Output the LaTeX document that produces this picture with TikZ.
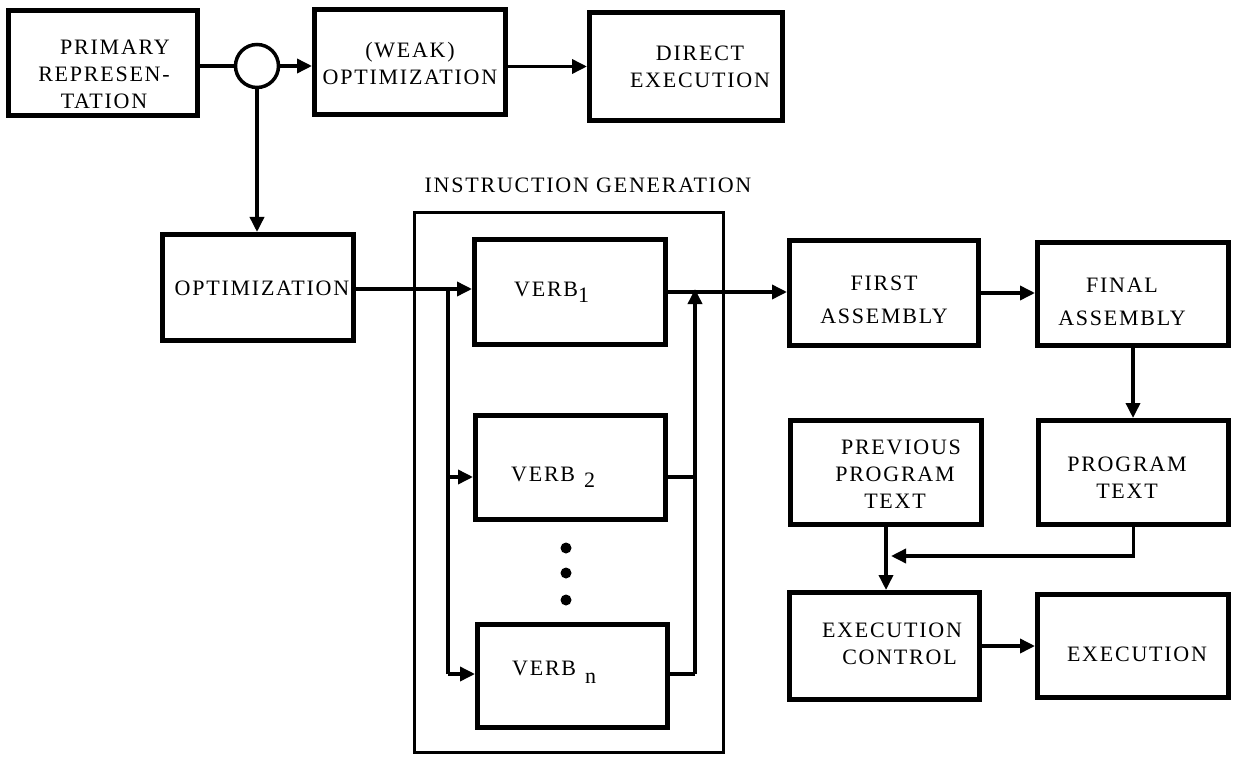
\documentclass[tikz,border=0pt]{standalone}
\usepackage{fontspec}
\setmainfont{Liberation Serif}[LetterSpace=8]
\usetikzlibrary{arrows.meta}
\newcommand{\boxnode}[6][box]{\node[#1, minimum width={#5-#3-5}, minimum height={#6-#4-5}] (#2) at ({(#3+#5)/2},{(#4+#6)/2}) {};}
\begin{document}
\begin{tikzpicture}[x=1pt,y=-1pt,
  box/.style={draw, line width=5pt, inner sep=0pt},
  outerbox/.style={draw, line width=3.5pt, inner sep=0pt},
  lbl/.style={font=\fontsize{22}{27}\selectfont, align=center, inner sep=0pt},
  conn/.style={line width=3.5pt},
  arr/.style={conn, -{Triangle[length=15pt,width=14pt]}},
  dot/.style={circle, fill, inner sep=0pt, minimum size=11pt},
]
\useasboundingbox (0,0) rectangle (1233,759);

% boxes
\boxnode{prim}{6}{8}{200}{118}
\boxnode{weak}{312}{7}{508}{117}
\boxnode{direct}{587}{10}{785}{123}
\boxnode{opt}{160}{232}{356}{343}
\boxnode[outerbox]{ig}{412}{210}{726}{755}
\boxnode{verb1}{472}{237}{668}{347}
\boxnode{verb2}{473}{413}{668}{522}
\boxnode{verbn}{475}{622}{670}{730}
\boxnode{first}{787}{238}{981}{348}
\boxnode{final}{1035}{240}{1231}{348}
\boxnode{prev}{788}{418}{984}{527}
\boxnode{progtext}{1036}{418}{1231}{527}
\boxnode{ec}{787}{590}{982}{702}
\boxnode{exec}{1035}{592}{1231}{700}
\node[draw, circle, line width=3.5pt, minimum size=43pt, inner sep=0pt] (split) at (257,66) {};

% dots
\node[dot] (d1) at (566,548) {};
\node[dot] (d2) at (566,573) {};
\node[dot] (d3) at (566,600) {};

% labels
\node[lbl] (tprim) at (104,74) {\hspace{22pt}PRIMARY\\REPRESEN-\\TATION};
\node[lbl] (tweak) at (410,63) {(WEAK)\\OPTIMIZATION};
\node[lbl] (tdirect) at (700,67) {DIRECT\\EXECUTION};
\node[lbl] (title) at (588,185) {INSTRUCTION GENERATION};
\node[lbl] (topt) at (262,288) {OPTIMIZATION};
\node[lbl, anchor=west] (tverb1) at (514,292) {VERB\raisebox{-6pt}{1}};
\node[lbl, anchor=west] (tverb2) at (511,477) {VERB\hspace{9pt}\raisebox{-6pt}{2}};
\node[lbl, anchor=west] (tverbn) at (512,672) {VERB\hspace{9pt}\raisebox{-8pt}{n}};
\node[lbl] (tfirst) at (884,300) {FIRST\\[6pt]ASSEMBLY};
\node[lbl] (tfinal) at (1122,302) {FINAL\hspace{25pt}\\[6pt]ASSEMBLY};
\node[lbl] (tprev) at (895,474) {\hspace{12pt}PREVIOUS\\PROGRAM\\TEXT};
\node[lbl] (tprog) at (1127,478) {PROGRAM\\TEXT};
\node[lbl] (tec) at (892,644) {EXECUTION\\\hspace{15pt}CONTROL};
\node[lbl] (texec) at (1137,654) {EXECUTION};

% connectors
\draw[conn] (prim.east |- split.west) -- (split.west);
\draw[arr] (split.east) -- (split.east -| weak.west);
\draw[arr] (weak.east |- direct.west) -- (direct.west);
\draw[arr] (split.south) -- (split.south |- opt.north);

\coordinate (j1) at (448,289);
\coordinate (j2) at (448,477);
\coordinate (jn) at (448,674);
\draw[arr] (opt.east |- j1) -- (j1 -| verb1.west);
\draw[conn] (j1) -- (jn);
\draw[arr] (j2) -- (j2 -| verb2.west);
\draw[arr] (jn) -- (jn -| verbn.west);

\coordinate (r1) at (695,292);
\coordinate (r2) at (695,477);
\coordinate (rn) at (695,674);
\draw[conn] (verbn.east |- rn) -- (rn);
\draw[conn] (verb2.east |- r2) -- (r2);
\draw[arr] (rn) -- ([yshift=3pt]r1);
\draw[arr] (verb1.east |- r1) -- (r1 -| first.west);

\draw[arr] (first.east) -- (first.east -| final.west);
\draw[arr] (final.south) -- (final.south |- progtext.north);

\coordinate (m) at (891,556);
\draw[arr] (progtext.south) |- (m);
\draw[arr] (prev.south) -- (prev.south |- ec.north);
\draw[arr] (ec.east) -- (ec.east -| exec.west);
\end{tikzpicture}
\end{document}
